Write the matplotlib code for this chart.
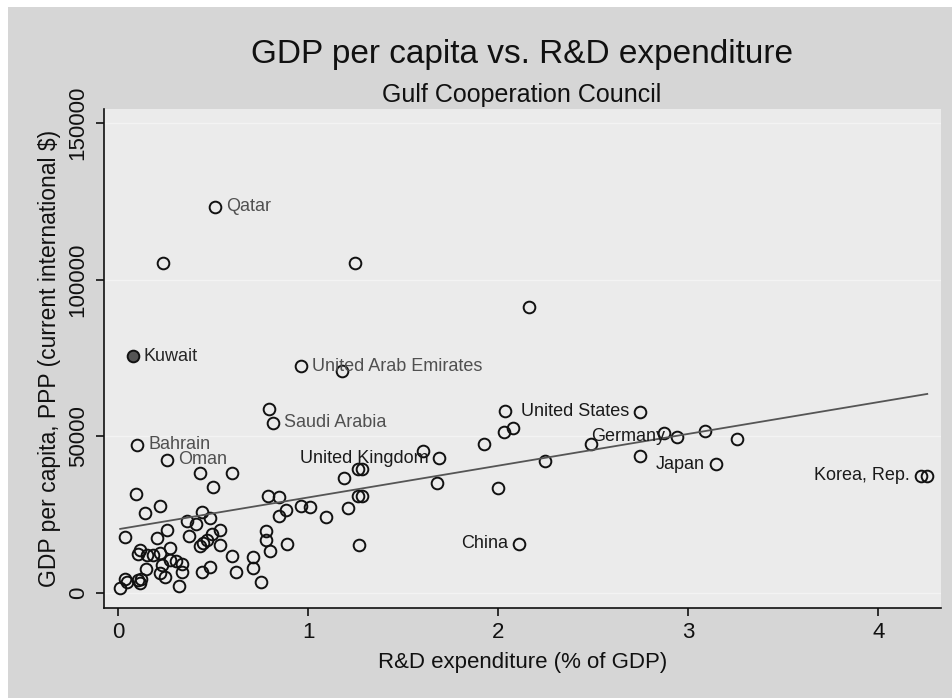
import matplotlib
matplotlib.use("Agg")
import matplotlib.pyplot as plt
from matplotlib.patches import Rectangle
import numpy as np

plt.rcParams['font.family'] = ['Liberation Sans', 'DejaVu Sans']

# R&D expenditure (% of GDP) and GDP per capita, PPP (current international $)
rd_pct = [
    0.508, 0.232, 1.243, 2.160, 0.074, 0.960, 1.176, 0.793, 0.812, 2.034,
    2.746, 2.032, 2.078, 0.098, 0.253, 1.923, 1.603, 1.689, 1.259, 1.283,
    0.427, 0.596, 0.499, 0.090, 0.789, 0.847, 1.677, 2.000, 1.185, 1.259,
    1.282, 0.218, 0.139, 0.442, 0.482, 0.359, 0.410, 0.884, 0.845, 0.960,
    1.009, 1.093, 1.206, 0.253, 0.033, 0.205, 0.532, 0.491, 0.466, 0.446,
    0.429, 0.372, 0.532, 0.776, 0.776, 0.796, 0.889, 1.264, 0.271, 0.115,
    0.104, 0.150, 0.183, 0.220, 0.599, 0.706, 0.710, 0.750, 0.618, 0.484,
    0.438, 0.271, 0.302, 0.335, 0.332, 0.320, 0.227, 0.220, 0.246, 0.145,
    0.032, 0.045, 0.103, 0.112, 0.121, 0.009, 2.247, 2.939, 2.489, 2.872,
    3.087, 3.256, 2.746, 3.145, 2.111, 4.223, 4.258,
]
gdp_pc = [
    123400, 105500, 105200, 91400, 75600, 72400, 70800, 58800, 54300, 58200,
    57900, 51400, 52600, 47300, 42500, 47400, 45200, 43000, 39400, 39400,
    38200, 38200, 33800, 31600, 31000, 30600, 35200, 33300, 36700, 31000,
    31000, 27700, 25400, 25900, 24000, 22900, 21900, 26300, 24500, 27700,
    27300, 24200, 27100, 20150, 17900, 17600, 20150, 18900, 17000, 16000,
    14800, 18000, 15100, 19600, 16950, 13200, 15600, 15400, 14300, 13600,
    12300, 12200, 12200, 12600, 11700, 11350, 7900, 3350, 6600, 8300,
    6500, 10500, 10000, 9300, 6650, 2100, 8900, 6400, 5000, 7700,
    4500, 3400, 4200, 3200, 4500, 1500, 42200, 49800, 47400, 51100,
    51700, 49200, 43800, 41050, 15600, 37400, 37400,
]

# Labelled countries: (index into the arrays, name, side, colour)
labels = [
    (0, "Qatar", "right", "#505050"),
    (4, "Kuwait", "right", "#262626"),
    (5, "United Arab Emirates", "right", "#505050"),
    (8, "Saudi Arabia", "right", "#505050"),
    (13, "Bahrain", "right", "#505050"),
    (14, "Oman", "right", "#505050"),
    (17, "United Kingdom", "left", "#1a1a1a"),
    (10, "United States", "left", "#1a1a1a"),
    (87, "Germany", "left", "#1a1a1a"),
    (93, "Japan", "left", "#1a1a1a"),
    (95, "Korea, Rep.", "left", "#1a1a1a"),
    (94, "China", "left", "#1a1a1a"),
]
highlight_index = 4  # Kuwait

# Linear fit of GDP per capita on R&D expenditure
fit_intercept = 20300
fit_slope = 10150

x_ticks = [0, 1, 2, 3, 4]
y_ticks = [0, 50000, 100000, 150000]

fig = plt.figure(figsize=(9.53, 6.98), dpi=100)
fig.patch.set_facecolor("white")
fig.patches.append(Rectangle((8 / 953, 0), 1 - 8 / 953, 1 - 7 / 698,
                             transform=fig.transFigure, facecolor="#d6d6d6",
                             edgecolor="none", zorder=-10))

ax = fig.add_axes([104 / 953, 1 - 608.3 / 698, (941.5 - 104) / 953,
                   (608.3 - 109) / 698])
ax.set_zorder(1)
ax.set_facecolor("#ebebeb")
ax.set_xlim(-0.0763, 4.333)
ax.set_ylim(-4985, 154570)

for yt in y_ticks:
    ax.axhline(yt, color="#f3f3f3", lw=0.9, zorder=1)

x = np.array(rd_pct)
y = np.array(gdp_pc)
mask = np.ones(len(x), dtype=bool)
mask[highlight_index] = False
ax.plot(x[mask], y[mask], linestyle="none", marker="o", ms=8.4,
        mfc="none", mec="#111111", mew=1.4, zorder=3)
ax.plot([x[highlight_index]], [y[highlight_index]], linestyle="none",
        marker="o", ms=8.4, mfc="#555555", mec="#111111", mew=1.4, zorder=3)

fx = np.array([x.min(), x.max()])
ax.plot(fx, fit_intercept + fit_slope * fx, color="#555555", lw=1.3, zorder=4)

for idx, name, side, col in labels:
    dx = 8 if side == "right" else -8
    ax.annotate(name, (x[idx], y[idx]), xytext=(dx, 0),
                textcoords="offset points",
                ha="left" if side == "right" else "right", va="center",
                fontsize=13, color=col, zorder=5)

for s in ("top", "right"):
    ax.spines[s].set_visible(False)
for s in ("left", "bottom"):
    ax.spines[s].set_color("#111111")
    ax.spines[s].set_linewidth(1.2)

ax.set_xticks(x_ticks)
ax.set_xticklabels([str(t) for t in x_ticks])
ax.set_yticks(y_ticks)
ax.set_yticklabels([str(t) for t in y_ticks], rotation=90, va="center")
ax.tick_params(axis="both", direction="out", length=6, width=1.2,
               color="#111111", labelsize=16, labelcolor="#111111")
ax.tick_params(axis="x", pad=4)
ax.tick_params(axis="y", pad=5)

ax.set_xlabel("R&D expenditure (% of GDP)", fontsize=16, color="#111111",
              labelpad=6)
ax.set_ylabel("GDP per capita, PPP (current international $)", fontsize=16.5,
              color="#111111", labelpad=5)

fig.text(522 / 953, 1 - 62.7 / 698, "GDP per capita vs. R&D expenditure",
         ha="center", va="baseline", fontsize=24, color="#111111")
fig.text(522 / 953, 1 - 102.3 / 698, "Gulf Cooperation Council",
         ha="center", va="baseline", fontsize=18, color="#111111")

fig.savefig("out.png", dpi=100, facecolor=fig.get_facecolor())
